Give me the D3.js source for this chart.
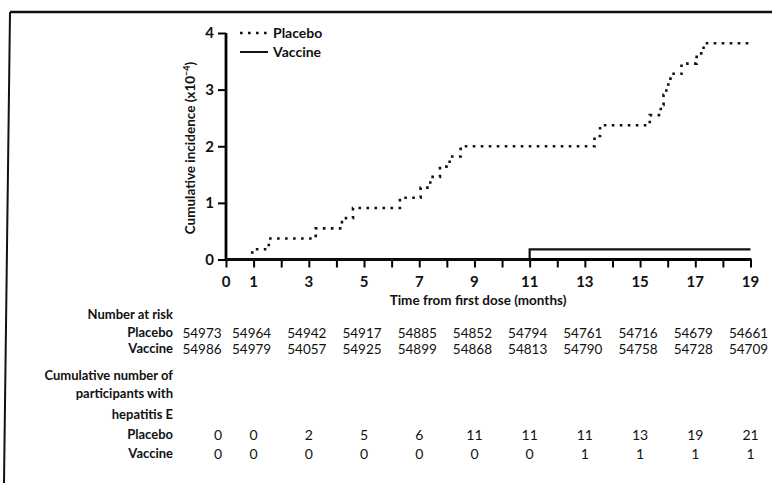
<!DOCTYPE html>
<html>
<head>
<meta charset="utf-8">
<script src="https://cdn.jsdelivr.net/npm/d3@7"></script>
<style>
  body { margin: 0; background: #fff; }
  svg { display: block; }
  text { font-family: Lato, "Open Sans", sans-serif; fill: #111; }
  .lbl { font-weight: 700; }
</style>
</head>
<body>
<div id="chart"></div>
<script>
// table columns (months shown on the axis)
var months = [0, 1, 3, 5, 7, 9, 11, 13, 15, 17, 19]
var atRiskPlacebo = [54973, 54964, 54942, 54917, 54885, 54852, 54794, 54761, 54716, 54679, 54661]
var atRiskVaccine = [54986, 54979, 54057, 54925, 54899, 54868, 54813, 54790, 54758, 54728, 54709]
var casesPlacebo = [0, 0, 2, 5, 6, 11, 11, 11, 13, 19, 21]
var casesVaccine = [0, 0, 0, 0, 0, 0, 0, 1, 1, 1, 1]

// step curves: month of each step and cumulative incidence (x10^-4) after it
var placeboMonths = [0, 0.95, 1.55, 3.25, 4.2, 4.6, 6.3, 7.05, 7.4, 7.75, 8.1, 8.5, 13.35, 13.55, 15.35, 15.75, 15.85, 15.95, 16.1, 16.5, 17.05, 17.3, 19]
var placeboIncidence = [0, 0.18, 0.37, 0.55, 0.73, 0.91, 1.09, 1.27, 1.46, 1.64, 1.82, 2.0, 2.18, 2.37, 2.55, 2.73, 2.91, 3.09, 3.28, 3.46, 3.64, 3.82, 3.82]
var vaccineMonths = [0, 11, 19]
var vaccineIncidence = [0, 0.18, 0.18]

var yTicks = [0, 1, 2, 3, 4]
var xTicks = d3.range(0, 20)

var W = 772, H = 483

var svg = d3.select('#chart').append('svg')
    .attr('width', W)
    .attr('height', H)

var x = d3.scaleLinear().domain([0, 19]).range([226, 750.5])
var y = d3.scaleLinear().domain([0, 4]).range([259.5, 33])

// page frame left over from the scan
svg.append('line')
    .attr('x1', 10).attr('y1', 12).attr('x2', 772).attr('y2', 12)
    .attr('stroke', '#111').attr('stroke-width', 2.5)
svg.append('line')
    .attr('x1', 10).attr('y1', 12).attr('x2', 4).attr('y2', 483)
    .attr('stroke', '#111').attr('stroke-width', 2)

// axes
var xAxis = svg.append('g')
    .attr('transform', 'translate(0,' + y(0) + ')')
    .call(d3.axisBottom(x).tickValues(xTicks).tickSize(8).tickFormat(''))
xAxis.select('.domain').attr('stroke-width', 2.8).attr('d', 'M' + (x(0) - 1) + ',0H' + (x(19) + 1))
xAxis.selectAll('.tick line').attr('stroke-width', 2)

var yAxis = svg.append('g')
    .attr('transform', 'translate(' + x(0) + ',0)')
    .call(d3.axisLeft(y).tickValues(yTicks).tickSize(8).tickFormat(d3.format('d')))
yAxis.select('.domain').attr('stroke-width', 2.8).attr('d', 'M0,' + y(4) + 'V' + (y(0) + 1))
yAxis.selectAll('.tick line').attr('stroke-width', 2)
yAxis.selectAll('.tick text')
    .attr('x', -12)
    .attr('font-size', 15)
    .attr('font-weight', 700)
    .style('font-family', 'Lato, sans-serif')

// x tick labels only at the table months
svg.selectAll('.xlab').data(months).enter().append('text')
    .attr('class', 'lbl')
    .attr('x', d => x(d))
    .attr('y', 287)
    .attr('text-anchor', 'middle')
    .attr('font-size', 15)
    .text(d => d)

svg.append('text')
    .attr('class', 'lbl')
    .attr('x', 478).attr('y', 305)
    .attr('text-anchor', 'middle')
    .attr('font-size', 13.5)
    .text('Time from first dose (months)')

svg.append('text')
    .attr('class', 'lbl')
    .attr('transform', 'translate(195,148) rotate(-90)')
    .attr('text-anchor', 'middle')
    .attr('font-size', 13.5)
    .html('Cumulative incidence (x10<tspan dy="-5" font-size="9">−4</tspan><tspan dy="5">)</tspan>')

// curves
var line = d3.line()
    .x(d => x(d[0]))
    .y(d => y(d[1]))
    .curve(d3.curveStepAfter)

var vaccineData = d3.zip(vaccineMonths, vaccineIncidence)
var placeboData = d3.zip(placeboMonths, placeboIncidence)

svg.append('path')
    .datum(vaccineData)
    .attr('d', line)
    .attr('fill', 'none')
    .attr('stroke', '#111')
    .attr('stroke-width', 2.2)

svg.append('path')
    .datum(placeboData)
    .attr('d', line)
    .attr('fill', 'none')
    .attr('stroke', '#111')
    .attr('stroke-width', 2.6)
    .attr('stroke-dasharray', '2.6,5.4')

// legend
var legend = [
    { name: 'Placebo', dash: '2.6,5.4', y: 33 },
    { name: 'Vaccine', dash: null, y: 52 }
]
var lg = svg.selectAll('.legend').data(legend).enter().append('g')
lg.append('line')
    .attr('x1', 240).attr('x2', 268)
    .attr('y1', d => d.y).attr('y2', d => d.y)
    .attr('stroke', '#111')
    .attr('stroke-width', d => d.dash ? 2.6 : 2)
    .attr('stroke-dasharray', d => d.dash)
lg.append('text')
    .attr('class', 'lbl')
    .attr('x', 273)
    .attr('y', d => d.y + 5)
    .attr('font-size', 14)
    .text(d => d.name)

// table below the chart
var labelX = 173
var rowLabels = [
    { t: 'Number at risk', y: 319 },
    { t: 'Placebo', y: 337 },
    { t: 'Vaccine', y: 353 },
    { t: 'Cumulative number of', y: 380 },
    { t: 'participants with', y: 398 },
    { t: 'hepatitis E', y: 419 },
    { t: 'Placebo', y: 439 },
    { t: 'Vaccine', y: 458 }
]
svg.selectAll('.rowlab').data(rowLabels).enter().append('text')
    .attr('class', 'lbl')
    .attr('x', labelX)
    .attr('y', d => d.y)
    .attr('text-anchor', 'end')
    .attr('font-size', 13)
    .text(d => d.t)

function riskX(m, i) { return i === 0 ? x(m) - 24 : x(m) - 2 }
function caseX(m, i) { return i === 0 ? x(m) - 8 : x(m) }

function row(values, yPos, xf, size) {
    svg.append('g').selectAll('text').data(values).enter().append('text')
        .attr('x', (d, i) => xf(months[i], i))
        .attr('y', yPos)
        .attr('text-anchor', 'middle')
        .attr('font-size', size)
        .text(d => d)
}

row(atRiskPlacebo, 338, riskX, 13.5)
row(atRiskVaccine, 354, riskX, 13.5)
row(casesPlacebo, 440, caseX, 14)
row(casesVaccine, 459, caseX, 14)
</script>
</body>
</html>
